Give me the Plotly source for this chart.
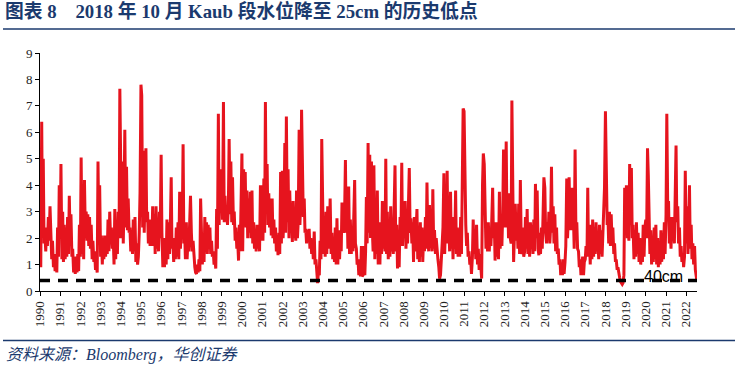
import pandas as pd
import plotly.graph_objects as go

# Kaub water level (m), semi-monthly readings estimated from the reference chart
w1990 = [1.6, 0.9, 6.4, 2.0, 5.0, 1.8, 2.1, 1.5, 2.4, 1.7, 2.8, 1.9, 3.2, 1.8, 1.2, 1.9, 0.9, 1.4, 0.75, 1.2, 0.7, 2.4, 1.3, 4.0]
w1991 = [2.0, 4.8, 1.2, 3.0, 1.1, 2.5, 1.2, 2.4, 1.3, 2.8, 1.4, 3.6, 1.8, 2.9, 1.3, 1.6, 0.7, 1.1, 0.65, 1.3, 0.7, 1.4, 0.75, 2.5]
w1992 = [1.3, 5.05, 1.4, 2.5, 1.2, 4.2, 2.0, 3.0, 1.9, 2.9, 1.7, 2.8, 1.6, 2.5, 1.2, 1.9, 1.1, 1.5, 0.8, 1.0, 0.7, 4.9, 2.0, 4.0]
w1993 = [1.3, 2.1, 1.0, 2.0, 1.2, 2.1, 1.3, 1.9, 1.4, 2.7, 1.5, 3.0, 1.9, 2.4, 1.6, 2.2, 1.0, 3.1, 1.2, 2.5, 1.4, 3.0, 2.0, 7.65]
w1994 = [4.0, 2.0, 4.9, 1.8, 3.5, 6.1, 2.4, 4.7, 2.3, 3.5, 2.2, 2.4, 1.5, 2.0, 1.4, 2.7, 1.5, 2.8, 1.1, 1.8, 1.0, 1.3, 2.2, 3.7]
w1995 = [7.8, 7.4, 2.4, 5.3, 2.2, 4.3, 5.4, 2.6, 3.0, 1.8, 2.7, 1.7, 2.4, 1.7, 3.2, 1.7, 2.9, 1.4, 3.2, 1.6, 2.4, 1.5, 3.0, 2.0]
w1996 = [5.15, 2.2, 0.9, 2.0, 0.9, 1.6, 1.0, 2.7, 1.2, 2.6, 1.4, 2.4, 4.3, 1.6, 1.9, 1.1, 2.0, 1.2, 2.4, 1.3, 2.6, 1.2, 3.75, 1.6]
w1997 = [2.5, 2.0, 5.55, 1.8, 2.3, 1.2, 2.6, 1.2, 2.0, 1.5, 3.0, 3.6, 2.2, 1.5, 1.9, 1.2, 0.9, 0.7, 0.65, 1.0, 0.7, 1.2, 0.75, 3.5]
w1998 = [2.2, 1.0, 2.0, 1.1, 2.8, 1.5, 2.6, 1.4, 2.5, 1.6, 2.4, 1.4, 1.9, 1.3, 1.5, 1.0, 1.2, 0.85, 3.1, 1.6, 6.7, 2.5, 4.6, 3.0]
w1999 = [4.0, 2.7, 7.15, 2.6, 3.6, 2.8, 3.0, 2.5, 3.2, 5.75, 2.9, 4.9, 2.6, 4.3, 2.5, 3.0, 1.9, 2.4, 1.6, 2.0, 1.15, 2.5, 1.5, 2.7]
w2000 = [5.2, 1.5, 4.6, 2.6, 4.5, 2.4, 3.8, 2.0, 3.5, 2.2, 3.75, 2.0, 3.8, 1.8, 2.6, 1.6, 2.3, 1.5, 2.5, 1.6, 2.4, 1.5, 4.0, 1.9]
w2001 = [4.0, 1.9, 4.25, 2.2, 7.15, 3.0, 4.8, 2.5, 3.7, 2.4, 3.5, 2.1, 3.5, 2.0, 2.7, 1.8, 2.4, 1.5, 2.0, 1.35, 2.2, 1.4, 4.5, 1.8]
w2002 = [4.55, 2.0, 3.0, 5.6, 2.2, 6.6, 2.6, 4.6, 2.0, 3.8, 2.3, 3.0, 1.85, 3.4, 2.0, 2.7, 1.9, 3.8, 2.0, 2.6, 6.1, 2.5, 3.5, 6.85]
w2003 = [3.9, 2.8, 3.5, 2.2, 2.35, 1.8, 2.3, 1.9, 2.35, 1.6, 2.0, 1.4, 1.8, 1.2, 2.25, 1.0, 1.2, 0.8, 0.3, 0.7, 0.6, 1.9, 1.2, 5.75]
w2004 = [2.2, 1.4, 2.4, 1.3, 3.0, 1.4, 3.2, 1.6, 2.0, 3.5, 1.4, 2.2, 1.2, 2.0, 1.1, 2.4, 1.0, 2.75, 1.0, 2.3, 1.2, 2.0, 1.5, 3.35]
w2005 = [2.6, 2.2, 3.0, 4.95, 2.2, 3.5, 1.6, 3.95, 1.4, 2.7, 1.4, 2.0, 1.5, 2.8, 4.2, 1.8, 1.6, 1.0, 1.2, 0.6, 1.0, 0.55, 1.7, 0.55]
w2006 = [0.6, 1.7, 0.6, 1.5, 3.55, 1.8, 5.6, 2.2, 5.15, 2.0, 4.9, 2.4, 1.5, 4.75, 1.2, 3.05, 1.4, 3.8, 1.0, 2.4, 1.0, 2.6, 1.4, 3.4]
w2007 = [1.6, 2.2, 1.5, 5.0, 1.4, 3.0, 1.2, 2.6, 1.3, 3.2, 1.5, 2.3, 1.4, 3.0, 4.75, 1.5, 2.5, 0.85, 2.1, 0.9, 2.8, 1.9, 4.85, 1.7]
w2008 = [3.0, 2.0, 3.4, 1.6, 2.8, 1.8, 3.0, 4.65, 2.2, 2.75, 1.8, 2.6, 1.1, 2.8, 1.5, 2.3, 3.1, 1.2, 2.0, 1.1, 2.6, 1.3, 2.4, 1.1]
w2009 = [2.2, 1.5, 2.8, 1.6, 4.1, 2.2, 1.5, 3.25, 1.8, 2.0, 1.5, 3.85, 1.6, 2.3, 1.4, 2.0, 1.3, 1.2, 0.9, 0.47, 0.6, 1.0, 1.8, 2.4]
w2010 = [4.45, 1.4, 2.6, 1.8, 4.55, 2.0, 2.4, 1.5, 3.75, 1.6, 2.6, 1.2, 2.8, 1.6, 3.8, 1.4, 2.4, 1.3, 1.9, 1.3, 2.8, 1.4, 3.6, 6.9]
w2011 = [6.8, 3.8, 2.5, 1.7, 2.2, 1.3, 1.5, 1.0, 1.2, 0.65, 1.3, 2.7, 1.4, 2.3, 1.2, 2.5, 1.0, 1.6, 0.8, 1.4, 0.6, 0.47, 4.05, 5.2]
w2012 = [4.8, 2.4, 1.6, 2.3, 1.5, 2.6, 1.5, 2.2, 1.7, 2.6, 3.9, 2.0, 2.6, 1.15, 2.6, 1.3, 2.3, 1.2, 3.75, 1.6, 2.5, 1.7, 3.0, 5.35]
w2013 = [2.4, 3.0, 5.65, 2.4, 3.5, 2.0, 3.7, 2.0, 1.8, 7.2, 3.0, 1.1, 2.2, 3.3, 1.9, 2.8, 1.6, 3.3, 1.4, 4.2, 1.7, 1.4, 2.4, 1.3]
w2014 = [1.5, 2.8, 1.6, 3.1, 1.4, 2.4, 1.3, 2.6, 1.6, 2.5, 1.4, 2.7, 1.5, 4.05, 2.0, 3.8, 1.6, 1.35, 2.2, 1.4, 2.4, 1.6, 3.0, 4.3]
w2015 = [3.9, 2.2, 1.8, 2.6, 2.0, 3.0, 1.8, 2.4, 4.7, 2.2, 3.2, 1.8, 2.9, 1.5, 2.4, 1.4, 1.6, 1.0, 1.2, 0.6, 1.0, 0.6, 1.2, 0.65]
w2016 = [1.1, 1.7, 4.25, 2.0, 2.8, 4.3, 2.3, 2.8, 3.9, 2.3, 2.8, 1.6, 5.35, 2.4, 2.6, 1.6, 1.5, 0.9, 1.2, 0.6, 1.0, 1.3, 0.6, 1.1]
w2017 = [1.2, 1.7, 1.3, 3.9, 1.4, 2.0, 1.0, 2.5, 1.2, 2.7, 1.3, 2.4, 1.4, 2.6, 1.5, 2.2, 1.2, 2.5, 1.4, 2.3, 1.3, 2.0, 2.8, 3.9]
w2018 = [6.8, 3.9, 2.5, 2.8, 1.8, 3.0, 1.7, 2.9, 1.8, 2.4, 1.4, 1.8, 1.1, 1.2, 0.8, 0.9, 0.6, 0.5, 0.35, 0.3, 0.25, 0.3, 0.6, 3.9]
w2019 = [2.4, 4.0, 2.0, 2.6, 1.9, 4.8, 2.5, 4.65, 2.0, 2.5, 1.2, 2.3, 1.3, 2.6, 1.4, 2.2, 1.1, 2.0, 1.0, 1.6, 1.1, 2.5, 1.3, 2.4]
w2020 = [2.7, 2.0, 5.4, 4.4, 2.5, 1.4, 2.3, 1.0, 2.0, 1.1, 2.4, 1.2, 2.5, 1.0, 2.0, 0.9, 1.8, 1.0, 2.3, 1.1, 2.1, 1.2, 2.6, 1.4]
w2021 = [2.9, 6.7, 3.0, 3.4, 1.8, 2.5, 1.6, 2.8, 2.0, 2.4, 1.8, 3.4, 5.5, 2.6, 3.2, 1.8, 2.4, 1.3, 1.7, 1.1, 1.4, 0.9, 1.3, 4.55]
w2022 = [1.8, 3.2, 1.4, 2.2, 4.0, 1.6, 2.5, 1.2, 1.8, 1.0, 1.7, 0.8, 0.6, 0.35]

LOW_LEVEL = 0.4          # reference level (m)
LOW_LABEL = "40cm"
START = "1990-01-01"

levels = (w1990 + w1991 + w1992 + w1993 + w1994 + w1995 + w1996 + w1997 + w1998 + w1999
          + w2000 + w2001 + w2002 + w2003 + w2004 + w2005 + w2006 + w2007 + w2008 + w2009
          + w2010 + w2011 + w2012 + w2013 + w2014 + w2015 + w2016 + w2017 + w2018 + w2019
          + w2020 + w2021 + w2022)
dates = pd.date_range(START, periods=len(levels), freq="SMS")

NAVY = "#1B3A6E"
RED = "#E6141E"

fig = go.Figure()
fig.add_trace(go.Scatter(x=dates, y=levels, mode="lines",
                         line=dict(color=RED, width=3), showlegend=False,
                         hoverinfo="skip"))
fig.add_trace(go.Scatter(x=[dates[0], dates[-1]], y=[LOW_LEVEL, LOW_LEVEL], mode="lines",
                         line=dict(color="black", width=3.5, dash="10px,8px"),
                         showlegend=False, hoverinfo="skip"))

fig.add_annotation(x=pd.Timestamp("2020-11-20"), y=LOW_LEVEL + 0.15, text=LOW_LABEL,
                   showarrow=False, xref="x", yref="y",
                   font=dict(family="Liberation Sans, Arial, sans-serif", size=16, color="black"))

L, R, T, B = 40, 41, 53, 79
W, H = 738, 370
pw, ph = W - L - R, H - T - B

def px(xp):
    return (xp - L) / pw

def py(yp):
    return (H - B - yp) / ph

fig.add_annotation(x=px(3), y=py(11), xref="paper", yref="paper", xanchor="left", yanchor="middle",
                   text="<b>图表 8　2018 年 10 月 Kaub 段水位降至 25cm 的历史低点</b>",
                   showarrow=False,
                   font=dict(family="Liberation Serif, Noto Sans CJK SC, serif", size=18.8, color=NAVY))
fig.add_annotation(x=px(4), y=py(355), xref="paper", yref="paper", xanchor="left", yanchor="middle",
                   text="<i>资料来源：Bloomberg，华创证券</i>",
                   showarrow=False,
                   font=dict(family="Liberation Serif, Noto Sans CJK SC, serif", size=16, color=NAVY))
fig.add_shape(type="line", xref="paper", yref="paper", x0=px(3), x1=px(735), y0=py(29), y1=py(29),
              line=dict(color=NAVY, width=1.5))
fig.add_shape(type="line", xref="paper", yref="paper", x0=px(3), x1=px(735), y0=py(340.5), y1=py(340.5),
              line=dict(color=NAVY, width=1.5))

tickfont = dict(family="Liberation Serif, Times New Roman, serif", size=13, color="#222")
fig.update_xaxes(type="date", range=[dates[0], dates[-1]], dtick="M12", tick0=START,
                 tickformat="%Y", tickangle=-90, ticks="outside", ticklen=4, tickcolor="black",
                 showline=True, linecolor="black", linewidth=1, showgrid=False, zeroline=False,
                 tickfont=tickfont, automargin=False)
fig.update_yaxes(range=[0, 9], dtick=1, ticks="outside", ticklen=4, tickcolor="black",
                 showline=True, linecolor="black", linewidth=1, showgrid=False, zeroline=False,
                 tickfont=tickfont, automargin=False)
fig.update_layout(width=W, height=H, margin=dict(l=L, r=R, t=T, b=B, pad=0),
                  plot_bgcolor="white", paper_bgcolor="white")
fig.write_html("out.html", config={"displayModeBar": False},
               post_script="document.body.style.margin='0';document.body.style.overflow='hidden';")
